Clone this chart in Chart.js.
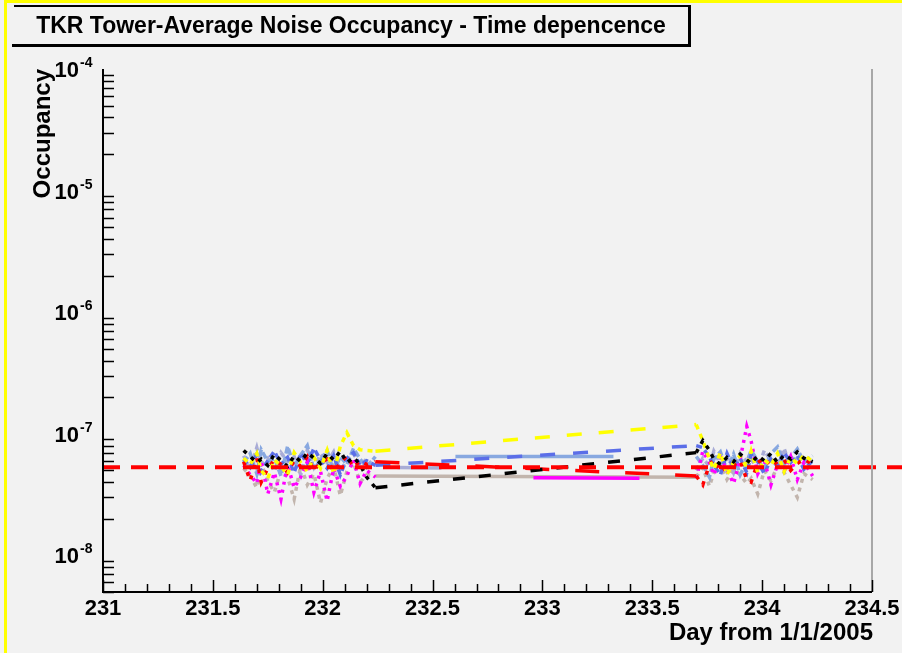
<!DOCTYPE html>
<html>
<head>
<meta charset="utf-8">
<style>
html,body{margin:0;padding:0;background:#f2f2f2;}
canvas{display:block;}
</style>
<script src="https://cdn.jsdelivr.net/npm/chart.js@4/dist/chart.umd.min.js"></script>
</head>
<body>
<canvas id="c" width="902" height="653"></canvas>
<script>
// ---------------- data ----------------
const chartTitle = 'TKR Tower-Average Noise Occupancy - Time depencence';
const xAxisTitle = 'Day from 1/1/2005';
const yAxisTitle = 'Occupancy';
const xTickValues = [231, 231.5, 232, 232.5, 233, 233.5, 234, 234.5];
const xTickLabels = ['231', '231.5', '232', '232.5', '233', '233.5', '234', '234.5'];
const yTickValues = [1e-8, 1e-7, 1e-6, 1e-5, 1e-4];
const yTickExponents = ['-8', '-7', '-6', '-5', '-4'];

// run times (days from 1/1/2005)
const days = [
  231.64, 231.67, 231.70, 231.72, 231.75, 231.78, 231.81, 231.84, 231.87, 231.90, 231.93,
  231.96, 231.99, 232.02, 232.05, 232.08, 232.11, 232.14, 232.17, 232.20, 232.24,
  233.70, 233.73, 233.76, 233.78, 233.81, 233.84, 233.87, 233.90, 233.93, 233.95,
  233.98, 234.01, 234.04, 234.07, 234.10, 234.13, 234.16, 234.19, 234.23
];

// occupancy values, in units of 1e-8
const blackVals = [7.3, 6.5, 5.8, 6.2, 5.5, 6.8, 6.0, 5.4, 6.6, 5.9, 7.0, 6.3, 5.7, 6.9, 6.1, 7.2, 5.8, 6.4, 5.6, 4.4, 3.6,
                   7.0, 8.8, 7.3, 6.2, 5.6, 6.4, 5.9, 6.8, 6.1, 5.7, 6.6, 6.0, 6.9, 5.8, 6.7, 6.2, 7.1, 6.3, 5.9];
const blueVals = [6.2, 5.3, 6.8, 4.9, 6.0, 7.2, 5.6, 6.4, 4.8, 6.9, 5.7, 7.6, 6.1, 5.2, 6.6, 4.6, 6.3, 7.0, 5.5, 6.0, 5.5,
                  8.0, 7.7, 6.4, 5.5, 4.6, 6.9, 5.2, 6.3, 4.8, 6.7, 5.9, 4.7, 6.2, 5.4, 7.0, 5.8, 6.6, 5.1, 6.0];
const lightBlueVals = [5.8, 6.9, 4.7, 7.4, 5.9, 6.3, 4.5, 7.9, 5.4, 6.7, 8.0, 5.1, 6.1, 7.3, 4.9, 6.5, 5.6, 7.6, 6.2, 5.3, 6.5,
                       6.5, 5.5, 4.4, 6.2, 7.1, 5.0, 6.8, 4.6, 5.9, 7.3, 6.0, 5.2, 6.9, 7.8, 5.6, 6.4, 7.5, 5.9, 6.6];
const redVals = [5.9, 4.1, 6.3, 4.0, 5.2, 6.1, 5.6, 4.8, 6.0, 5.4, 6.5, 5.0, 5.8, 6.2, 4.9, 5.7, 6.6, 5.3, 6.0, 5.6, 5.9,
                 4.5, 3.8, 5.6, 6.1, 4.9, 5.3, 5.5, 6.0, 4.2, 4.0, 5.8, 6.3, 5.4, 5.9, 6.1, 5.0, 5.7, 6.2, 5.6];
const magentaVals = [5.5, 4.6, 3.9, 6.0, 3.2, 4.8, 2.9, 5.6, 3.6, 4.4, 5.9, 3.3, 4.9, 2.8, 5.2, 3.7, 4.5, 6.1, 3.9, 5.0, 4.4,
                     4.3, 7.2, 5.8, 4.6, 6.4, 5.0, 3.9, 6.2, 11.5, 8.7, 4.7, 6.0, 3.8, 5.6, 4.9, 6.5, 4.2, 5.8, 4.5];
const yellowVals = [6.3, 5.6, 6.9, 5.0, 4.3, 6.1, 5.4, 4.6, 7.0, 5.8, 4.9, 6.4, 5.2, 7.3, 4.7, 7.9, 10.2, 8.0, 7.4, 7.3, 7.2,
                    11.9, 8.8, 6.2, 5.1, 7.0, 4.6, 5.9, 6.6, 5.3, 7.2, 4.8, 6.1, 5.5, 6.9, 4.9, 6.4, 5.7, 6.7, 5.9];
const tanVals = [5.2, 4.5, 3.6, 5.7, 4.1, 3.3, 5.0, 4.4, 2.9, 5.5, 3.8, 4.7, 2.7, 4.3, 5.4, 3.1, 4.9, 5.8, 4.0, 4.6, 4.5,
                 4.4, 5.3, 3.7, 4.8, 5.6, 4.2, 5.1, 4.6, 3.9, 4.3, 3.2, 5.0, 4.1, 5.4, 4.8, 3.8, 3.0, 4.7, 4.2];
const lavenderVals = [6.6, 5.1, 7.7, 5.6, 6.3, 4.9, 7.0, 5.9, 6.5, 4.6, 7.4, 5.3, 6.8, 5.8, 7.1, 5.0, 6.0, 6.9, 5.5, 6.2, 5.3,
                      5.0, 6.3, 5.4, 7.2, 5.7, 6.5, 4.8, 6.9, 5.9, 6.2, 5.1, 7.3, 6.0, 5.5, 7.6, 5.2, 6.7, 5.8, 6.1];

const thresholdValue = 5.3e-8;
const thresholdDays = [231, 234.64];

// ---------------- chart ----------------
const UNIT = 1e-8;
function gapStyle(dash) {
  return ctx => (ctx.p1.parsed.x - ctx.p0.parsed.x > 0.5 ? dash : undefined);
}
function series(label, values, color, dash, gapDash, order) {
  const ds = {
    label: label,
    order: order,
    data: days.map((d, i) => ({x: d, y: values[i] * UNIT})),
    borderColor: color,
    borderWidth: 3.5,
    borderDash: dash,
    borderCapStyle: 'butt',
    pointRadius: 0,
    fill: false,
    tension: 0
  };
  if (gapDash) ds.segment = {borderDash: gapStyle(gapDash)};
  return ds;
}

const datasets = [
  {
    label: 'threshold',
    order: 0,
    data: thresholdDays.map(d => ({x: d, y: thresholdValue})),
    borderColor: '#ff0000',
    borderWidth: 4,
    borderDash: [17, 11],
    pointRadius: 0,
    fill: false,
    clip: false
  },
  series('black', blackVals, '#000000', [4, 6], [12, 14], 1),
  series('yellow', yellowVals, '#ffff00', [5, 5], [15, 17], 2),
  series('red', redVals, '#ff0000', [4, 7], [24, 26], 3),
  series('magenta', magentaVals, '#ff00ff', [3, 5], [0, 158, 106, 2000], 4),
  series('blue', blueVals, '#5b6ee8', [6, 4], [15, 18], 5),
  series('lightblue', lightBlueVals, '#88a8e0', [7, 3], [0, 80, 158, 2000], 6),
  series('lavender', lavenderVals, '#a9acd6', [5, 4], [0, 22, 44, 2000], 7),
  series('tan', tanVals, '#c2b5ad', [4, 5], [], 8)
];

const FONT = '"Liberation Sans", Arial, Helvetica, sans-serif';

const rootFrame = {
  id: 'rootFrame',
  beforeDraw(chart) {
    const ctx = chart.ctx;
    ctx.save();
    ctx.fillStyle = '#f2f2f2';
    ctx.fillRect(0, 0, chart.width, chart.height);
    ctx.fillStyle = '#ffff00';
    ctx.fillRect(4, 0, chart.width - 4, 3);
    ctx.fillRect(4, 0, 3, chart.height);
    ctx.restore();
  },
  afterDatasetsDraw(chart) {
    const ctx = chart.ctx;
    const xs = chart.scales.x, ys = chart.scales.y;
    const a = chart.chartArea;
    ctx.save();
    // right frame (grey)
    ctx.strokeStyle = '#a8a8a8';
    ctx.lineWidth = 2;
    ctx.beginPath(); ctx.moveTo(a.right, a.top); ctx.lineTo(a.right, a.bottom); ctx.stroke();
    // axes
    ctx.strokeStyle = '#000';
    ctx.lineWidth = 2;
    ctx.beginPath();
    ctx.moveTo(a.left, a.top); ctx.lineTo(a.left, a.bottom); ctx.lineTo(a.right, a.bottom);
    ctx.stroke();
    // y minor ticks (inward)
    ctx.lineWidth = 1.5;
    ctx.beginPath();
    for (let e = -9; e <= -5; e++) {
      for (let k = 2; k <= 9; k++) {
        const v = k * Math.pow(10, e);
        if (v < ys.min || v > ys.max) continue;
        const py = Math.round(ys.getPixelForValue(v)) + 0.5;
        ctx.moveTo(a.left, py); ctx.lineTo(a.left + 11, py);
      }
    }
    // x ticks (inward)
    for (let i = 0; i <= 35; i++) {
      const v = 231 + i * 0.1;
      const px = Math.round(xs.getPixelForValue(v)) + 0.5;
      const len = (i % 5 === 0) ? 12 : 8;
      ctx.moveTo(px, a.bottom); ctx.lineTo(px, a.bottom - len);
    }
    ctx.stroke();

    // x tick labels
    ctx.fillStyle = '#000';
    ctx.font = 'bold 22px ' + FONT;
    ctx.textAlign = 'center';
    ctx.textBaseline = 'alphabetic';
    xTickValues.forEach((v, i) => {
      ctx.fillText(xTickLabels[i], xs.getPixelForValue(v), a.bottom + 23);
    });
    // y tick labels 10^n
    yTickValues.forEach((v, i) => {
      const py = ys.getPixelForValue(v);
      ctx.font = 'bold 22px ' + FONT;
      ctx.textAlign = 'right';
      ctx.fillText('10', 79, py + 8);
      ctx.font = 'bold 14px ' + FONT;
      ctx.textAlign = 'left';
      ctx.fillText(yTickExponents[i], 80, py - 2);
    });
    // axis titles
    ctx.font = 'bold 24px ' + FONT;
    ctx.textAlign = 'right';
    ctx.fillText(xAxisTitle, a.right + 1, 640);
    ctx.save();
    ctx.translate(50, a.top);
    ctx.rotate(-Math.PI / 2);
    ctx.textAlign = 'right';
    ctx.fillText(yAxisTitle, 0, 0);
    ctx.restore();
    ctx.restore();
  },
  afterDraw(chart) {
    const ctx = chart.ctx;
    ctx.save();
    // title pave
    ctx.fillStyle = '#000';
    ctx.fillRect(14, 5, 677, 2);      // top
    ctx.fillRect(688, 5, 3, 42);      // right (with shadow)
    ctx.fillRect(12, 44, 679, 3);     // bottom (with shadow)
    ctx.font = 'bold 23px ' + FONT;
    ctx.textAlign = 'center';
    ctx.textBaseline = 'alphabetic';
    ctx.fillText(chartTitle, 351, 33);
    ctx.restore();
  }
};

new Chart(document.getElementById('c'), {
  type: 'line',
  data: {datasets: datasets},
  options: {
    responsive: false,
    animation: false,
    devicePixelRatio: 1,
    events: [],
    layout: {padding: {left: 103, right: 30, top: 69, bottom: 61}},
    scales: {
      x: {type: 'linear', min: 231, max: 234.5, display: false},
      y: {type: 'logarithmic', min: 5e-9, max: 1e-4, display: false}
    },
    plugins: {legend: {display: false}, tooltip: {enabled: false}, title: {display: false}}
  },
  plugins: [rootFrame]
});
</script>
</body>
</html>
